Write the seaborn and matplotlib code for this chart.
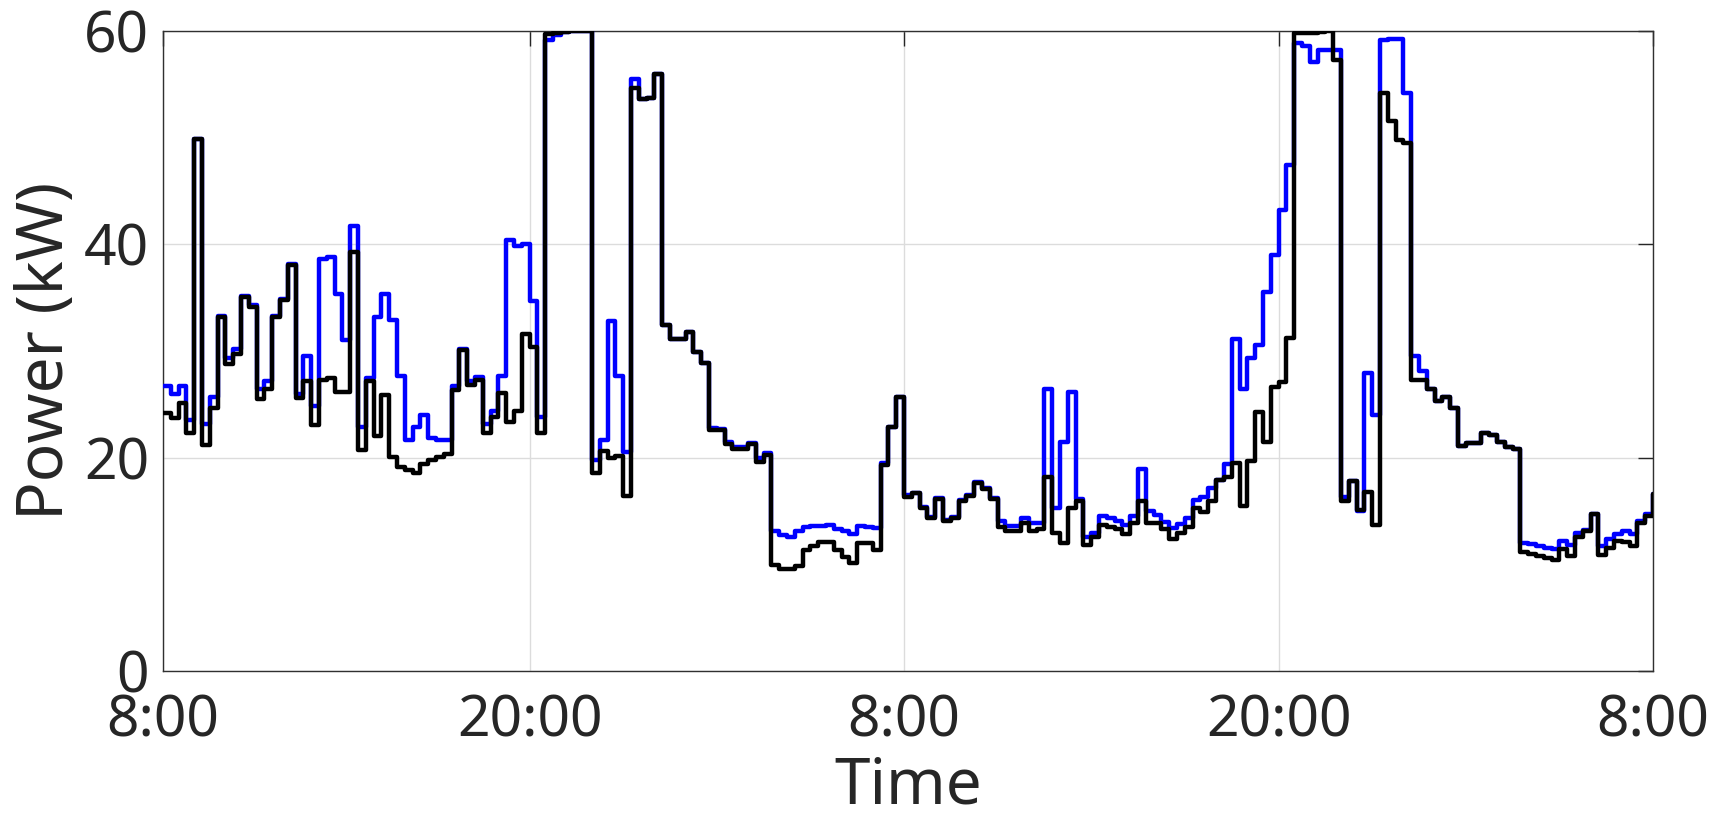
import numpy as np
import pandas as pd
import matplotlib
matplotlib.use("Agg")
import matplotlib.pyplot as plt
import seaborn as sns

# 15-minute steps, index 1..192 (two days from 8:00)
step_index = list(range(1, 193))

blue_kw = [
    26.7, 26.0, 26.7, 23.5, 49.9, 23.2, 25.7, 33.3, 29.3, 30.2,
    35.2, 34.3, 26.4, 27.2, 33.3, 34.9, 38.2, 26.0, 29.5, 24.8,
    38.6, 38.8, 35.3, 31.0, 41.7, 22.9, 27.5, 33.2, 35.3, 32.9,
    27.7, 21.7, 22.9, 24.0, 21.8, 21.7, 21.7, 26.7, 30.2, 27.2,
    27.6, 23.2, 24.4, 27.7, 40.4, 39.8, 40.0, 34.7, 23.8, 59.2,
    59.6, 59.9, 60.0, 60.0, 60.0, 19.8, 21.7, 32.8, 27.7, 20.5,
    55.5, 53.6, 53.7, 56.0, 32.4, 31.1, 31.1, 31.8, 29.9, 28.9,
    22.8, 22.7, 21.5, 21.0, 21.0, 21.4, 20.0, 20.4, 13.1, 12.75,
    12.6, 13.1, 13.5, 13.6, 13.6, 13.7, 13.3, 13.1, 12.8, 13.6,
    13.5, 13.4, 19.5, 22.9, 25.7, 16.5, 16.7, 15.4, 14.4, 16.2,
    14.2, 14.4, 16.0, 16.5, 17.7, 17.2, 16.2, 14.1, 13.6, 13.6,
    14.3, 13.9, 13.9, 26.4, 15.3, 21.5, 26.2, 16.1, 12.6, 12.9,
    14.5, 14.3, 14.1, 13.7, 14.5, 18.9, 15.0, 14.6, 14.0, 13.4,
    13.8, 14.3, 16.0, 16.3, 17.2, 17.9, 19.4, 31.1, 26.4, 29.3,
    30.6, 35.5, 39.0, 43.2, 47.4, 58.9, 58.6, 57.1, 58.2, 58.2,
    58.2, 16.3, 17.8, 15.0, 27.9, 24.0, 59.2, 59.3, 59.3, 54.2,
    29.5, 28.1, 26.4, 25.3, 25.7, 24.7, 21.1, 21.4, 21.4, 22.3,
    22.1, 21.5, 21.0, 20.8, 12.0, 11.9, 11.7, 11.5, 11.4, 12.2,
    11.8, 12.9, 13.2, 14.7, 11.7, 12.4, 12.8, 13.1, 12.8, 14.1,
    14.7, 16.6,
]

black_kw = [
    24.2, 23.7, 25.1, 22.3, 49.9, 21.2, 24.7, 33.2, 28.8, 29.7,
    35.1, 34.1, 25.5, 26.4, 33.2, 34.8, 38.1, 25.6, 27.2, 23.1,
    27.3, 27.5, 26.2, 26.2, 39.3, 20.7, 27.2, 22.0, 25.9, 20.1,
    19.1, 18.8, 18.6, 19.4, 19.75, 20.1, 20.3, 26.3, 30.1, 26.8,
    27.3, 22.3, 23.8, 26.1, 23.3, 24.4, 31.6, 30.4, 22.3, 59.7,
    59.8, 59.9, 60.0, 60.0, 60.0, 18.6, 20.6, 20.0, 20.2, 16.4,
    54.7, 53.6, 53.7, 56.0, 32.4, 31.1, 31.1, 31.8, 29.9, 28.9,
    22.55, 22.55, 21.3, 20.8, 20.8, 21.3, 19.6, 20.25, 9.9, 9.6,
    9.6, 9.8, 11.3, 11.7, 12.1, 12.1, 11.3, 10.7, 10.1, 12.0,
    12.0, 11.3, 19.3, 22.9, 25.7, 16.3, 16.7, 15.3, 14.3, 16.1,
    14.1, 14.3, 15.9, 16.4, 17.6, 17.1, 16.1, 13.5, 13.1, 13.1,
    13.9, 13.1, 13.3, 18.2, 12.9, 12.0, 15.3, 15.9, 11.8, 12.6,
    13.7, 13.5, 13.3, 12.8, 13.9, 15.9, 13.9, 13.9, 13.3, 12.4,
    12.9, 13.5, 15.3, 14.9, 15.9, 17.9, 18.2, 19.5, 15.5, 19.7,
    24.3, 21.5, 26.6, 27.1, 31.2, 59.8, 59.8, 59.8, 59.9, 60.0,
    57.3, 15.9, 17.8, 15.1, 16.8, 13.7, 54.2, 51.6, 49.8, 49.5,
    27.3, 27.3, 26.4, 25.3, 25.7, 24.7, 21.1, 21.4, 21.4, 22.3,
    22.1, 21.5, 21.0, 20.8, 11.2, 11.0, 10.8, 10.6, 10.4, 11.4,
    10.8, 12.6, 13.1, 14.7, 10.9, 11.5, 12.2, 12.1, 11.7, 13.9,
    14.5, 16.6,
]

tick_positions = [1, 48, 96, 144, 192]
tick_labels = ["8:00", "20:00", "8:00", "20:00", "8:00"]
y_ticks = [0, 20, 40, 60]

series_names = ["blue", "black"]

df = pd.concat([
    pd.DataFrame({"step": step_index, "power": blue_kw, "series": "blue"}),
    pd.DataFrame({"step": step_index, "power": black_kw, "series": "black"}),
], ignore_index=True)

sns.set_style("white")
plt.rcParams["font.family"] = ["Noto Sans", "DejaVu Sans"]

fig = plt.figure(figsize=(17.29, 8.21), dpi=100)
ax = fig.add_axes([0.0943, 0.1827, 0.8617, 0.7795])

sns.lineplot(data=df, x="step", y="power", hue="series", hue_order=series_names,
             palette={"blue": "#0000ff", "black": "#000000"},
             drawstyle="steps-post", linewidth=3.2, estimator=None,
             legend=False, ax=ax, zorder=3)

ax.set_xlim(1, 192)
ax.set_ylim(0, 60)
ax.set_xticks(tick_positions)
ax.set_xticklabels(tick_labels)
ax.set_yticks(y_ticks)
ax.set_yticklabels([str(v) for v in y_ticks])

ax.grid(True, color="#dcdcdc", linewidth=1.0, zorder=0)
ax.set_axisbelow(True)

for side in ["left", "right", "top", "bottom"]:
    ax.spines[side].set_visible(True)
    ax.spines[side].set_color("#303030")
    ax.spines[side].set_linewidth(1.0)

ax.tick_params(axis="both", which="major", direction="in", length=11, width=1.0,
               color="#262626", labelcolor="#262626", labelsize=41,
               top=True, right=True)
ax.tick_params(axis="x", pad=16)
ax.tick_params(axis="y", pad=10)
for lbl in ax.get_yticklabels():
    lbl.set_verticalalignment("center_baseline")

ax.set_xlabel("Time", fontsize=46, color="#262626", labelpad=3)
ax.set_ylabel("Power (kW)", fontsize=46, color="#262626", labelpad=4)

fig.savefig("out.png", dpi=100)
